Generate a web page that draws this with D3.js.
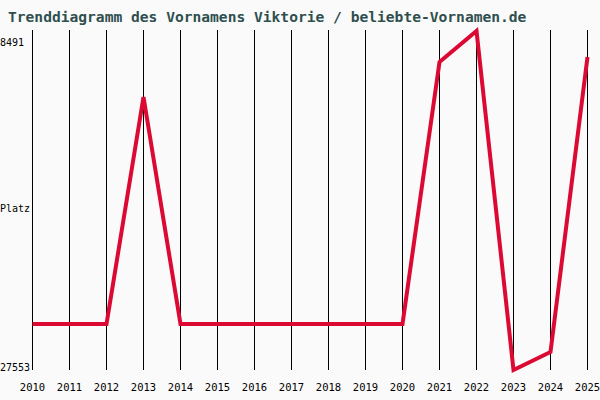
<!DOCTYPE html>
<html><head><meta charset="utf-8">
<script src="https://cdn.jsdelivr.net/npm/d3@7"></script>
<style>body{margin:0;background:#fafafa}</style>
</head><body>
<svg id="c" width="600" height="400"></svg>
<script>
// values (ranks, lower = better)
const years = [2010,2011,2012,2013,2014,2015,2016,2017,2018,2019,2020,2021,2022,2023,2024,2025];
const ranks = [25031,25031,25031,11717,25031,25031,25031,25031,25031,25031,25031,9664,7846,27729,26673,9371];
const yTicks = [8491, 27553];

const svg = d3.select("#c");
svg.append("rect").attr("width",600).attr("height",400).attr("fill","#fafafa");

let x = d3.scaleLinear().domain([2010,2025]).range([32.5,587.5]);
let y = d3.scaleLinear().domain([8491,27553]).range([42,367]);

svg.append("text").attr("x",8).attr("y",22)
   .attr("font-family","DejaVu Sans Mono").attr("font-size",14.6).attr("font-weight","bold")
   .attr("fill","#2f4f4f")
   .text("Trenddiagramm des Vornamens Viktorie / beliebte-Vornamen.de");

svg.selectAll("line.grid").data(years).enter().append("line")
   .attr("x1",d=>x(d)).attr("x2",d=>x(d)).attr("y1",30).attr("y2",370)
   .attr("stroke","#000").attr("stroke-width",1);

svg.selectAll("text.yr").data(years).enter().append("text")
   .attr("x",d=>x(d)).attr("y",391).attr("text-anchor","middle")
   .attr("font-family","DejaVu Sans Mono").attr("font-size",10.5).attr("fill","#000")
   .text(d=>d);

svg.selectAll("text.yt").data(yTicks).enter().append("text")
   .attr("x",0).attr("y",d=>y(d)+4)
   .attr("font-family","DejaVu Sans Mono").attr("font-size",10).attr("fill","#000")
   .text(d=>d);
svg.append("text").attr("x",0).attr("y",212)
   .attr("font-family","DejaVu Sans Mono").attr("font-size",10).text("Platz");

let line = d3.line().x((d,i)=>x(years[i])).y(d=>y(d));
svg.append("path").datum(ranks).attr("d",line)
   .attr("fill","none").attr("stroke","#dc0a32").attr("stroke-width",4)
   .attr("stroke-linejoin","miter");
</script>
</body></html>
